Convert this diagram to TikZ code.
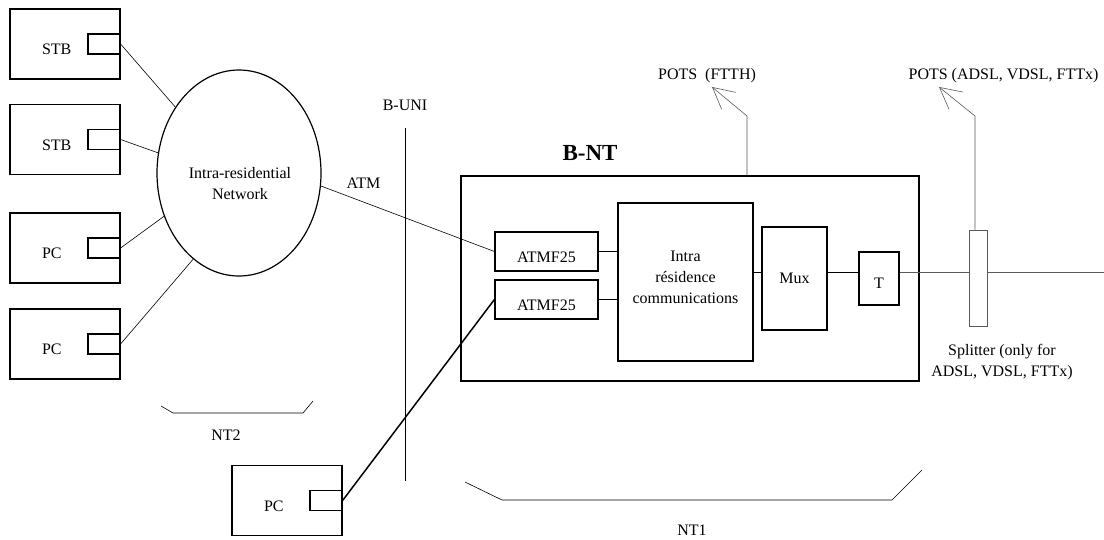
\documentclass[tikz,border=0pt]{standalone}
\usepackage{fontspec}
\setmainfont{Liberation Serif}
\usepackage{tikz}
\usetikzlibrary{arrows.meta,positioning,shapes.geometric,calc}

\begin{document}
\begin{tikzpicture}[
    x=1pt, y=-1pt,
    every node/.style={font=\fontsize{16}{21}\selectfont},
    box/.style={rectangle, draw, line width=1.2pt, inner sep=0pt},
    devbox/.style={box, minimum width=110pt, minimum height=70pt,
                 text width=46pt, align=left, text height=21pt, text depth=0pt},
    port/.style={box, minimum width=32pt, minimum height=20pt, anchor=east},
    atmbox/.style={box, minimum width=103pt, minimum height=39pt,
                 text height=21pt, text depth=0pt},
    wire/.style={line width=0.6pt},
    graywire/.style={line width=0.6pt, black!65},
    potsarr/.style={graywire, -{Straight Barb[length=21pt, width=22pt, line width=0.6pt]}},
]
    \useasboundingbox (0,0) rectangle (1104,539);

    % home devices
    \node[devbox] (stb1) at (65,44) {STB};
    \node[devbox] (stb2) at (65,139.5) {STB};
    \node[devbox] (pc1) at (65,248) {PC};
    \node[devbox] (pc2) at (65,344) {PC};
    \node[devbox] (pc3) at (287,500.5) {PC};
    \node[port] (stb1p) at (stb1.east) {};
    \node[port] (stb2p) at (stb2.east) {};
    \node[port] (pc1p) at (pc1.east) {};
    \node[port] (pc2p) at (pc2.east) {};
    \node[port] (pc3p) at (pc3.east) {};

    % home network
    \node[ellipse, draw, line width=1.2pt, minimum width=164pt, minimum height=206pt,
          inner sep=0pt] (net) at (239,173) {};
    \node[align=center] (netlbl) at (240,184) {Intra-residential\\Network};
    \draw[wire] (stb1p.east) -- (net.134);
    \draw[wire] (stb2p.east) -- (net.166);
    \draw[wire] (pc1p.east) -- (net.210);
    \draw[wire] (pc2p.east) -- (net.242);

    % B-UNI
    \node (buni) at (405,105) {B-UNI};
    \coordinate (unitop) at (405,128);
    \coordinate (unibot) at (405,481);
    \draw[wire] (unitop) -- (unibot);

    % B-NT
    \node[box, minimum width=458pt, minimum height=205pt] (bnt) at (690,278.5) {};
    \node[font=\fontsize{23}{28}\selectfont\bfseries] (bntlbl) at (590,153) {B-NT};
    \node[atmbox] (atmf1) at (546.5,251.5) {ATMF25};
    \node[atmbox] (atmf2) at (546.5,299.5) {ATMF25};
    \node[box, minimum width=135pt, minimum height=158pt] (intra) at (685.5,282) {};
    \node[align=center] (intralbl) at (685.5,277) {Intra\\r\'esidence\\communications};
    \node[box, minimum width=65pt, minimum height=103pt] (mux) at (794.5,278.5) {Mux};
    \node[box, minimum width=40pt, minimum height=53pt,
          text height=19pt, text depth=0pt] (t) at (879,278.5) {T};
    \node[rectangle, draw, black!65, line width=0.8pt, minimum width=18pt,
          minimum height=96pt, inner sep=0pt] (splitter) at (978,278) {};
    \node[align=center] (splitlbl) at (1002,362) {Splitter (only for\\ADSL, VDSL, FTTx)};

    \coordinate (bus) at (0,272);
    \coordinate (lineend) at (1104,272);
    \node (atm) at (363.5,183) {ATM};
    \draw[wire] (net.351) -- (atmf1.west);
    \draw[line width=1.5pt] (pc3p.east) -- (atmf2.west);
    \draw[wire] (atmf1.east) -- (intra.west |- atmf1.east);
    \draw[wire] (atmf2.east) -- (intra.west |- atmf2.east);
    \draw[wire] (intra.east |- bus) -- (mux.west |- bus);
    \draw[wire] (mux.east |- bus) -- (t.west |- bus);
    \draw[graywire] (t.east |- bus) -- (splitter.west |- bus);
    \draw[graywire] (splitter.east |- bus) -- (lineend);

    % POTS
    \node (ftth) at (707,76) {POTS\ \ (FTTH)};
    \node (fttx) at (1003.5,76) {POTS (ADSL, VDSL, FTTx)};
    \coordinate (ftthbend) at (747,116);
    \coordinate (ftthtip) at (712,87);
    \coordinate (fttxbend) at (975,116);
    \coordinate (fttxtip) at (939,87);
    \draw[potsarr] (bnt.north -| ftthbend) -- (ftthbend) -- (ftthtip);
    \draw[potsarr] (splitter.north -| fttxbend) -- (fttxbend) -- (fttxtip);

    % NT1 / NT2 braces
    \draw[wire] (161,406) -- (173,413) -- (303,413) -- (313,401);
    \node (nt2) at (226,435) {NT2};
    \draw[wire] (465,482) -- (502,500) -- (892,500) -- (922,470);
    \node (nt1) at (692,530) {NT1};
\end{tikzpicture}
\end{document}
